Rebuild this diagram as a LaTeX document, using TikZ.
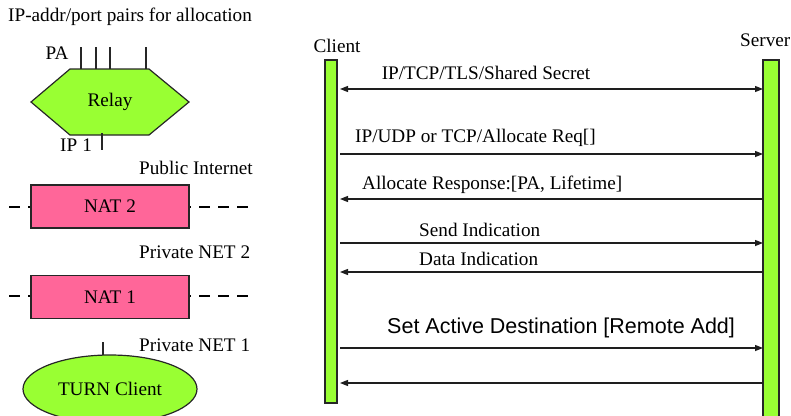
\documentclass[tikz,border=0pt]{standalone}
\usepackage{fontspec}
\setmainfont{Liberation Serif}
\newfontfamily\arialfont{Liberation Sans}
\usetikzlibrary{arrows.meta,shapes.geometric}
\definecolor{limeg}{RGB}{153,255,51}
\definecolor{natpink}{RGB}{255,102,153}
\definecolor{arrowc}{RGB}{30,30,30}
\begin{document}
\begin{tikzpicture}[x=1pt,y=-1pt,
  txt/.style={inner sep=0pt,font=\fontsize{19.2}{22}\selectfont},
  natbox/.style={draw=black!85,fill=natpink,line width=1.2pt,minimum width=158pt,minimum height=43pt,inner sep=0pt,font=\fontsize{19.2}{22}\selectfont},
  bar/.style={draw=black!85,fill=limeg,line width=1.2pt},
  tick/.style={draw=black!85,line width=1.2pt},
  msg/.style={draw=arrowc,line width=1.3pt,-{Triangle[length=8pt,width=6pt]}},
  dmsg/.style={draw=arrowc,line width=1.3pt,{Triangle[length=8pt,width=6pt]}-{Triangle[length=8pt,width=6pt]}},
  netline/.style={draw=black,line width=2.4pt,dash pattern=on 11pt off 8pt}]
\useasboundingbox (0,0) rectangle (791,415);

% left part
\node[txt,anchor=west] (title) at (8,17) {IP-addr/port pairs for allocation};
\node[txt] (pa) at (57,53) {PA};
\foreach \xx in {81,96,110,146}{\draw[tick] (\xx,47) -- (\xx,69);}
\draw[draw=black!85,fill=limeg,line width=1.2pt] (70,69) -- (149,69) -- (189,102) -- (149,135) -- (70,135) -- (31,102) -- cycle;
\node[txt] (relay) at (110,102) {Relay};
\node[txt,anchor=west] (ip1) at (60,145) {IP\hspace{5pt}1};
\draw[tick] (102,133) -- (102,150);
\node[txt,anchor=west] (pub) at (139,168) {Public Internet};
\draw[netline] (9,207) -- (248,207);
\node[natbox] (nat2) at (110,206.5) {NAT 2};
\node[txt,anchor=west] (priv2) at (139,252) {Private NET 2};
\draw[netline] (9,296) -- (248,296);
\node[natbox] (nat1) at (110,297) {NAT 1};
\node[txt,anchor=west] (priv1) at (139,345) {Private NET 1};
\draw[tick] (103,342) -- (103,356);
\node[ellipse,draw=black!85,fill=limeg,line width=1.2pt,minimum width=174pt,minimum height=68pt,inner sep=0pt,font=\fontsize{19.2}{22}\selectfont] (turn) at (110,389) {TURN Client};

% right part
\node[txt] (client) at (337,46) {Client};
\node[txt,anchor=west] (server) at (740,40) {Server};
\draw[bar] (325,60) rectangle (337,403);
\draw[bar] (763,60) rectangle (779,425);

\foreach \n/\yy in {1/89,2/154,3/199,4/243,5/272,6/348,7/383}{
  \coordinate (c\n) at (340,\yy);
  \coordinate (s\n) at (763,\yy);
}
\draw[dmsg] (c1) -- (s1);
\node[txt] (l1) at (486,73) {IP/TCP/TLS/Shared Secret};
\draw[msg] (c2) -- (s2);
\node[txt,anchor=west] (l2) at (355,138) {IP/UDP or TCP/Allocate Req[]};
\draw[msg] (s3) -- (c3);
\node[txt,anchor=west] (l3) at (362,185) {Allocate Response:[PA, Lifetime]};
\draw[msg] (c4) -- (s4);
\node[txt,anchor=west] (l4) at (419,230) {Send Indication};
\draw[msg] (s5) -- (c5);
\node[txt,anchor=west] (l5) at (419,259) {Data Indication};
\draw[msg] (c6) -- (s6);
\node[inner sep=0pt,anchor=west,font=\arialfont\fontsize{21.5}{24}\selectfont] (l6) at (387,328) {Set Active Destination [Remote Add]};
\draw[msg] (s7) -- (c7);
\end{tikzpicture}
\end{document}
